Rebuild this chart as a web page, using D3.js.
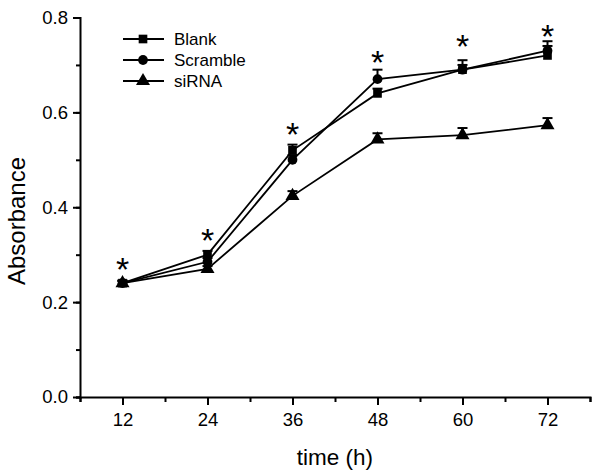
<!DOCTYPE html>
<html>
<head>
<meta charset="utf-8">
<script src="https://cdn.jsdelivr.net/npm/d3@7"></script>
<style>
    body { margin: 0; background: #fff; }
    svg text { font-family: Arial, 'Liberation Sans', sans-serif; fill: #000; }
</style>
</head>
<body>
<div id="chart"></div>
<script>
// data
const times = [12, 24, 36, 48, 60, 72];
const blank = [0.24, 0.30, 0.52, 0.64, 0.69, 0.72];
const scramble = [0.24, 0.285, 0.50, 0.67, 0.69, 0.73];
const sirna = [0.24, 0.27, 0.424, 0.543, 0.552, 0.573];
const blankErr = [0.005, 0.008, 0.012, 0.01, 0.01, 0.02];
const scrambleErr = [0.005, 0.008, 0.01, 0.02, 0.02, 0.02];
const sirnaErr = [0.005, 0.006, 0.01, 0.013, 0.015, 0.015];
// where the significance stars sit (absorbance units)
const starLevel = [0.285, 0.346, 0.569, 0.721, 0.755, 0.776];
const xTicks = [12, 24, 36, 48, 60, 72];
const yTicks = [0.0, 0.2, 0.4, 0.6, 0.8];

const series = [
    { name: 'Blank', values: blank, err: blankErr, shape: d3.symbolSquare },
    { name: 'Scramble', values: scramble, err: scrambleErr, shape: d3.symbolCircle },
    { name: 'siRNA', values: sirna, err: sirnaErr, shape: d3.symbolTriangle },
];

const width = 600, height = 476;
const svg = d3.select('#chart').append('svg')
    .attr('width', width)
    .attr('height', height);

const x = d3.scaleLinear().domain([6, 78]).range([80, 590]);
const y = d3.scaleLinear().domain([0, 0.8]).range([397, 17.5]);

// minor ticks first (short), then major ticks with labels
const xAxisMinor = d3.axisBottom(x).tickValues(d3.range(6, 79, 6)).tickSize(5).tickFormat('');
const xAxis = d3.axisBottom(x).tickValues(xTicks).tickSize(8).tickPadding(8).tickFormat(d3.format('d'));
const yAxisMinor = d3.axisLeft(y).tickValues(d3.range(0, 0.81, 0.1)).tickSize(4).tickFormat('');
const yAxis = d3.axisLeft(y).tickValues(yTicks).tickSize(7).tickPadding(5).tickFormat(d3.format('.1f'));

function styleAxis(g) {
    g.select('.domain').attr('stroke', '#000').attr('stroke-width', 2);
    g.selectAll('.tick line').attr('stroke', '#000').attr('stroke-width', 2);
    g.selectAll('.tick text').style('font-size', '18.5px');
}

svg.append('g').attr('transform', 'translate(0,397)').call(xAxisMinor).call(styleAxis);
svg.append('g').attr('transform', 'translate(0,397)').call(xAxis).call(styleAxis)
    .select('.domain').remove();
svg.append('g').attr('transform', 'translate(80,0)').call(yAxisMinor).call(styleAxis);
svg.append('g').attr('transform', 'translate(80,0)').call(yAxis).call(styleAxis)
    .select('.domain').remove();

// axis titles
svg.append('text')
    .attr('x', 335).attr('y', 465)
    .attr('text-anchor', 'middle')
    .style('font-size', '22.5px')
    .text('time (h)');
svg.append('text')
    .attr('transform', 'translate(25,221) rotate(-90)')
    .attr('text-anchor', 'middle')
    .style('font-size', '24px')
    .text('Absorbance');

const line = d3.line()
    .x((d, i) => x(times[i]))
    .y(d => y(d));

series.forEach(s => {
    const g = svg.append('g');
    // error bars (upper only, with cap)
    s.values.forEach((v, i) => {
        const top = y(v + s.err[i]);
        g.append('line')
            .attr('x1', x(times[i])).attr('x2', x(times[i]))
            .attr('y1', y(v)).attr('y2', top)
            .attr('stroke', '#000').attr('stroke-width', 2);
        g.append('line')
            .attr('x1', x(times[i]) - 5).attr('x2', x(times[i]) + 5)
            .attr('y1', top).attr('y2', top)
            .attr('stroke', '#000').attr('stroke-width', 2);
    });
    g.append('path')
        .datum(s.values)
        .attr('fill', 'none')
        .attr('stroke', '#000')
        .attr('stroke-width', 1.8)
        .attr('d', line);
    g.selectAll('.pt')
        .data(s.values)
        .enter()
        .append('path')
        .attr('transform', (d, i) => 'translate(' + x(times[i]) + ',' + y(d) + ')')
        .attr('d', d3.symbol().type(s.shape).size(s.shape === d3.symbolTriangle ? 85 : 75))
        .attr('fill', '#000');
});

// significance stars
svg.selectAll('.star')
    .data(starLevel)
    .enter()
    .append('text')
    .attr('x', (d, i) => x(times[i]))
    .attr('y', d => y(d) + 19)
    .attr('text-anchor', 'middle')
    .style('font-size', '34px')
    .text('*');

// legend
const legend = svg.append('g');
series.forEach((s, i) => {
    const ly = 39 + i * 21;
    legend.append('line')
        .attr('x1', 123).attr('x2', 164)
        .attr('y1', ly).attr('y2', ly)
        .attr('stroke', '#000').attr('stroke-width', 1.8);
    legend.append('path')
        .attr('transform', 'translate(143,' + ly + ')')
        .attr('d', d3.symbol().type(s.shape).size(s.shape === d3.symbolTriangle ? 85 : 75))
        .attr('fill', '#000');
    legend.append('text')
        .attr('x', 174).attr('y', ly + 6)
        .style('font-size', '17px')
        .text(s.name);
});
</script>
</body>
</html>
